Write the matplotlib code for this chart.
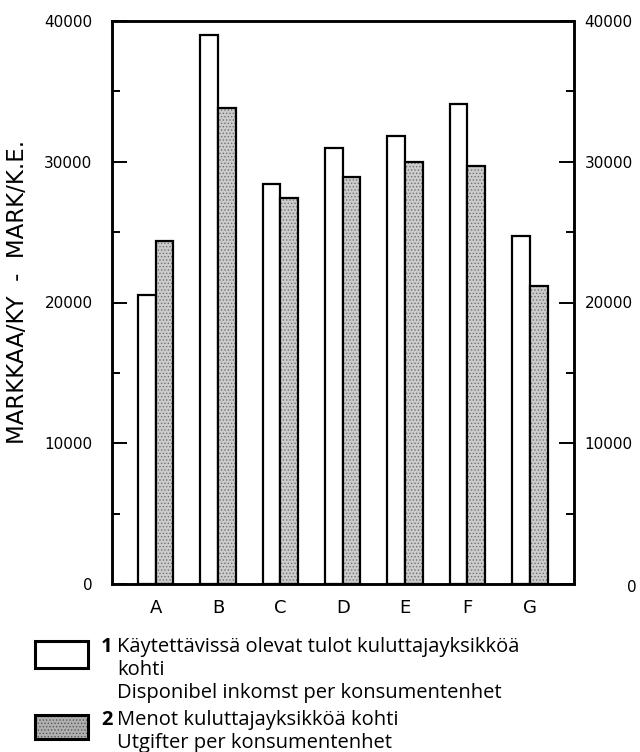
import numpy as np
import matplotlib.pyplot as plt
from matplotlib.patches import Rectangle

# data
regions = ['A', 'B', 'C', 'D', 'E', 'F', 'G']
income = [20500, 39000, 28400, 31000, 31800, 34100, 24700]
spending = [24400, 33800, 27400, 28900, 29950, 29700, 21200]
yticks = [0, 10000, 20000, 30000, 40000]
legend_1 = ['Käytettävissä olevat tulot kuluttajayksikköä', 'kohti',
            'Disponibel inkomst per konsumentenhet']
legend_2 = ['Menot kuluttajayksikköä kohti', 'Utgifter per konsumentenhet']

W, H = 640, 752
fig = plt.figure(figsize=(6.4, 7.52), dpi=100)
ax = fig.add_axes([112 / W, 1 - 584 / H, 461.5 / W, 563 / H])

x = np.arange(len(regions))
w = 0.284
lw = 1.6
plt.rcParams['hatch.linewidth'] = 0.6

ax.bar(x - w / 2, income, w, facecolor='white', edgecolor='black', linewidth=lw, zorder=2)
# stippled fill, then a black outline on top
ax.bar(x + w / 2, spending, w, facecolor='#cccccc', edgecolor='#707070',
       hatch='.....', linewidth=0, zorder=2)
ax.bar(x + w / 2, spending, w, facecolor='none', edgecolor='black', linewidth=lw, zorder=3)

ax.set_xlim(-0.7, 6.7)
ax.set_ylim(0, 40000)
ax.set_xticks(x)
ax.set_xticklabels(regions, fontsize=13)
ax.tick_params(axis='x', length=0, pad=11)

ax.set_yticks(yticks)
ax.set_yticklabels([str(v) for v in yticks], fontsize=11)
ax.set_yticks(np.arange(5000, 40000, 10000), minor=True)
ax.tick_params(axis='y', which='major', direction='in', length=11, width=1.4, pad=14)
ax.tick_params(axis='y', which='minor', direction='in', length=6, width=1.4)
for s in ax.spines.values():
    s.set_linewidth(1.8)

ax2 = ax.twinx()
ax2.set_ylim(0, 40000)
ax2.set_yticks(yticks)
ax2.set_yticklabels([''] + [str(v) for v in yticks[1:]], fontsize=11)
ax2.set_yticks(np.arange(5000, 40000, 10000), minor=True)
ax2.tick_params(axis='y', which='major', direction='in', length=11, width=1.4, pad=8)
ax2.tick_params(axis='y', which='minor', direction='in', length=6, width=1.4)
for s in ax2.spines.values():
    s.set_linewidth(1.8)
fig.text(632 / W, 1 - 588 / H, '0', fontsize=11, ha='center', va='center')

fig.text(18 / W, 1 - 292 / H, 'MARKKAA/KY  -  MARK/K.E.', fontsize=16.5,
         rotation=90, ha='center', va='center')

# legend drawn by hand below the axes
lfont = 'Open Sans'
lsize = 14.5
line_y1 = [647, 670, 693]
line_y2 = [720, 743]
fig.add_artist(Rectangle((35 / W, 1 - 668 / H), 53 / W, 27 / H, transform=fig.transFigure,
                         facecolor='white', edgecolor='black', linewidth=2.2))
fig.add_artist(Rectangle((35 / W, 1 - 739 / H), 53 / W, 24 / H, transform=fig.transFigure,
                         facecolor='#b0b0b0', edgecolor='#555555', hatch='.....', linewidth=0))
fig.add_artist(Rectangle((35 / W, 1 - 739 / H), 53 / W, 24 / H, transform=fig.transFigure,
                         facecolor='none', edgecolor='black', linewidth=2.2))

fig.text(101 / W, 1 - line_y1[0] / H, '1', fontsize=lsize, family=lfont, weight='bold', va='center')
for yy, line in zip(line_y1, legend_1):
    fig.text(117 / W, 1 - yy / H, line, fontsize=lsize, family=lfont, va='center')
fig.text(101 / W, 1 - line_y2[0] / H, '2', fontsize=lsize, family=lfont, weight='bold', va='center')
for yy, line in zip(line_y2, legend_2):
    fig.text(117 / W, 1 - yy / H, line, fontsize=lsize, family=lfont, va='center')

fig.savefig('out.png', dpi=100, facecolor='white')
